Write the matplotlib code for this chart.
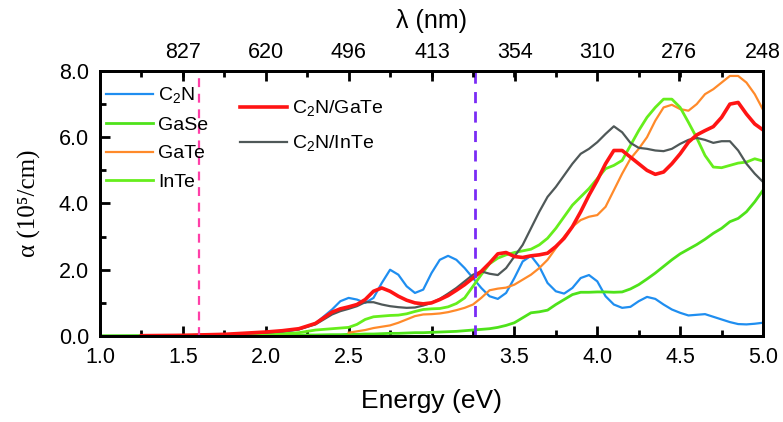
import numpy as np
import matplotlib
matplotlib.use("Agg")
import matplotlib.pyplot as plt
from matplotlib.ticker import MultipleLocator

plt.rcParams['font.family'] = ['Liberation Sans', 'DejaVu Sans']
plt.rcParams['mathtext.fontset'] = 'custom'
plt.rcParams['mathtext.rm'] = 'Liberation Sans'

# ----------------------------
# Data (energy in eV, alpha in 1e5 /cm)
# ----------------------------
energy = [1.0, 1.25, 1.5, 1.75, 2.0, 2.1, 2.2, 2.3, 2.4, 2.45,
          2.5, 2.55, 2.6, 2.65, 2.7, 2.75, 2.8, 2.85, 2.9, 2.95,
          3.0, 3.05, 3.1, 3.15, 3.2, 3.25, 3.3, 3.35, 3.4, 3.45,
          3.5, 3.55, 3.6, 3.65, 3.7, 3.75, 3.8, 3.85, 3.9, 3.95,
          4.0, 4.05, 4.1, 4.15, 4.2, 4.25, 4.3, 4.35, 4.4, 4.45,
          4.5, 4.55, 4.6, 4.65, 4.7, 4.75, 4.8, 4.85, 4.9, 4.95, 5.0]

c2n = [0.0, 0.01, 0.02, 0.04, 0.08, 0.12, 0.2, 0.38, 0.8, 1.05,
       1.15, 1.1, 1.0, 1.15, 1.6, 2.0, 1.85, 1.5, 1.3, 1.4,
       1.9, 2.3, 2.42, 2.3, 2.05, 1.75, 1.45, 1.2, 1.12, 1.3,
       1.75, 2.25, 2.42, 2.1, 1.6, 1.35, 1.28, 1.45, 1.75, 1.84,
       1.65, 1.2, 0.95, 0.85, 0.88, 1.05, 1.18, 1.12, 0.95, 0.8,
       0.7, 0.62, 0.64, 0.66, 0.58, 0.5, 0.42, 0.36, 0.35, 0.37, 0.4]

gase = [0.0, 0.0, 0.0, 0.01, 0.02, 0.02, 0.03, 0.03, 0.04, 0.04,
        0.05, 0.05, 0.06, 0.06, 0.07, 0.08, 0.08, 0.09, 0.1, 0.1,
        0.11, 0.12, 0.13, 0.14, 0.16, 0.18, 0.2, 0.22, 0.26, 0.32,
        0.4, 0.55, 0.7, 0.73, 0.78, 0.95, 1.1, 1.25, 1.32, 1.32,
        1.33, 1.33, 1.32, 1.33, 1.42, 1.55, 1.72, 1.9, 2.1, 2.3,
        2.48, 2.62, 2.76, 2.92, 3.1, 3.25, 3.45, 3.55, 3.75, 4.05, 4.4]

gate = [np.nan, np.nan, np.nan, np.nan, np.nan, np.nan, np.nan, np.nan, np.nan, np.nan,
        0.1, 0.14, 0.18, 0.24, 0.28, 0.32, 0.4, 0.5, 0.6, 0.65,
        0.66, 0.68, 0.72, 0.78, 0.85, 0.95, 1.15, 1.38, 1.43, 1.46,
        1.55, 1.7, 1.85, 2.05, 2.3, 2.65, 3.0, 3.3, 3.5, 3.6,
        3.65, 3.9, 4.4, 4.9, 5.35, 5.65, 6.0, 6.5, 6.9, 6.98,
        6.85, 6.8, 7.0, 7.3, 7.45, 7.65, 7.85, 7.85, 7.65, 7.3, 6.83]

inte = [0.0, 0.01, 0.02, 0.03, 0.05, 0.07, 0.1, 0.18, 0.22, 0.24,
        0.26, 0.35, 0.5, 0.58, 0.6, 0.62, 0.63, 0.67, 0.74, 0.8,
        0.82, 0.83, 0.88, 0.98, 1.15, 1.5, 1.85, 2.18, 2.35, 2.45,
        2.52, 2.57, 2.62, 2.75, 2.95, 3.25, 3.6, 3.95, 4.2, 4.45,
        4.75, 5.05, 5.15, 5.3, 5.75, 6.2, 6.6, 6.9, 7.15, 7.15,
        6.9, 6.45, 5.98, 5.45, 5.1, 5.08, 5.15, 5.22, 5.25, 5.35, 5.28]

c2n_gate = [np.nan, 0.01, 0.02, 0.05, 0.12, 0.16, 0.22, 0.38, 0.72, 0.82,
            0.88, 0.95, 1.1, 1.35, 1.45, 1.35, 1.2, 1.08, 1.0, 0.97,
            1.0, 1.1, 1.22, 1.38, 1.55, 1.75, 1.95, 2.2, 2.48, 2.52,
            2.4, 2.37, 2.42, 2.45, 2.5, 2.7, 2.95, 3.3, 3.75, 4.25,
            4.7, 5.2, 5.6, 5.6, 5.4, 5.2, 5.0, 4.88, 4.95, 5.2,
            5.5, 5.85, 6.07, 6.2, 6.32, 6.6, 7.0, 7.05, 6.7, 6.4, 6.22]

c2n_inte = [np.nan, 0.01, 0.02, 0.05, 0.1, 0.14, 0.2, 0.35, 0.65, 0.75,
            0.82, 0.9, 1.02, 1.02, 0.95, 0.9, 0.87, 0.85, 0.86, 0.92,
            1.0, 1.12, 1.28, 1.45, 1.65, 1.85, 1.95, 1.88, 1.84, 2.05,
            2.4, 2.75, 3.25, 3.75, 4.2, 4.5, 4.85, 5.2, 5.5, 5.65,
            5.85, 6.1, 6.33, 6.15, 5.83, 5.68, 5.65, 5.6, 5.58, 5.65,
            5.8, 5.92, 5.98, 5.92, 5.83, 5.88, 5.88, 5.6, 5.2, 4.9, 4.65]

wavelength_ticks = [827, 620, 496, 413, 354, 310, 276, 248]
dashed_energies = [1.6, 3.26]

# ----------------------------
fig = plt.figure(figsize=(7.83, 4.22), dpi=100)
ax = fig.add_axes([0.1277, 0.2038, 0.8468, 0.628])

l1, = ax.plot(energy, c2n, color='#1f8ef0', lw=1.6, label='C$_2$N')
l2, = ax.plot(energy, gase, color='#4ee21a', lw=2.0, label='GaSe')
l3, = ax.plot(energy, gate, color='#ff8a2a', lw=1.6, label='GaTe')
l4, = ax.plot(energy, inte, color='#66ee1c', lw=2.0, label='InTe')
l6, = ax.plot(energy, c2n_inte, color='#4f5858', lw=1.6, label='C$_2$N/InTe')
l5, = ax.plot(energy, c2n_gate, color='#ff1414', lw=2.6, label='C$_2$N/GaTe')

ax.axvline(dashed_energies[0], color='#ff3fa8', lw=1.6, ls=(0, (4, 3)))
ax.axvline(dashed_energies[1], color='#7a2cf5', lw=2.0, ls=(0, (4, 3)))

ax.set_xlim(1.0, 5.0)
ax.set_ylim(0.0, 8.0)
ax.xaxis.set_major_locator(MultipleLocator(0.5))
ax.xaxis.set_minor_locator(MultipleLocator(0.25))
ax.yaxis.set_major_locator(MultipleLocator(2.0))
ax.yaxis.set_minor_locator(MultipleLocator(1.0))
ax.xaxis.set_major_formatter(plt.FormatStrFormatter('%.1f'))
ax.yaxis.set_major_formatter(plt.FormatStrFormatter('%.1f'))
ax.tick_params(which='both', direction='in', width=2, labelsize=15.5)
ax.tick_params(axis='x', pad=8)
ax.tick_params(axis='y', pad=8)
ax.tick_params(which='major', length=7)
ax.tick_params(which='minor', length=4)
for s in ax.spines.values():
    s.set_linewidth(2)

ax.set_xlabel('Energy (eV)', fontsize=19, labelpad=15)
ax.set_ylabel('α (10⁵/cm)', fontsize=18, family=['Liberation Serif', 'DejaVu Serif'], labelpad=13)

# top wavelength axis
top = ax.twiny()
top.set_xlim(ax.get_xlim())
top.set_xticks([1240.0 / w for w in wavelength_ticks])
top.set_xticklabels([str(w) for w in wavelength_ticks])
top.xaxis.set_minor_locator(MultipleLocator(0.25))
top.tick_params(which='both', direction='in', width=2, labelsize=15.5, pad=6)
top.tick_params(which='major', length=7)
top.tick_params(which='minor', length=4)
top.set_xlabel('λ (nm)', fontsize=18, labelpad=10)
for s in top.spines.values():
    s.set_linewidth(2)

leg1 = ax.legend(handles=[l1, l2, l3, l4], loc='upper left', bbox_to_anchor=(0.009, 0.945),
                 frameon=False, fontsize=14, handlelength=2.4, handletextpad=0.3,
                 labelspacing=0.55, borderaxespad=0, borderpad=0)
ax.add_artist(leg1)
ax.legend(handles=[l5, l6], loc='upper left', bbox_to_anchor=(0.211, 0.895),
          frameon=False, fontsize=14, handlelength=2.4, handletextpad=0.3,
          labelspacing=0.75, borderaxespad=0, borderpad=0)

fig.savefig('out.png', dpi=100)
